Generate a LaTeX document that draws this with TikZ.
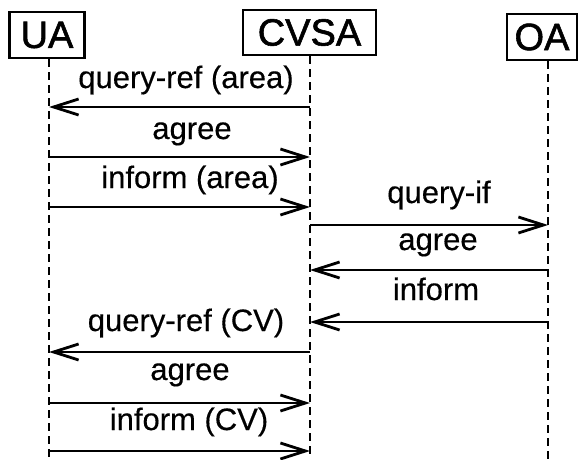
\documentclass[tikz,border=0pt]{standalone}
\usepackage{fontspec}
\setmainfont{Liberation Sans}
\usetikzlibrary{arrows.meta}
\begin{document}
\begin{tikzpicture}[x=1pt,y=-1pt,
  head/.style={draw,line width=2.6pt,inner sep=0pt,font=\fontsize{38}{40}\selectfont\addfontfeature{FakeBold=1.5}},
  life/.style={line width=1.1pt,dash pattern=on 8pt off 5pt},
  msg/.style={line width=2.4pt,-{Straight Barb[length=25pt,width=16pt,line width=2.8pt]}},
  lbl/.style={anchor=base,inner sep=0pt,font=\fontsize{31}{33}\selectfont\addfontfeature{FakeBold=0.4}}]
\useasboundingbox[fill=white] (0,0) rectangle (581,459);
% headers
\node[head,minimum width=75pt,minimum height=46pt] (ua) at (47,35) {UA};
\node[head,minimum width=133pt,minimum height=45pt] (cvsa) at (309.5,32.5) {CVSA};
\node[head,minimum width=70pt,minimum height=46pt] (oa) at (542,37) {OA};
% lifelines
\coordinate (uaend) at (49,459);
\coordinate (cvend) at (310,459);
\coordinate (oaend) at (548,459);
\draw[life] (ua.south -| uaend) -- (uaend);
\draw[life] (cvsa.south -| cvend) -- (cvend);
\draw[life] (oa.south -| oaend) -- (oaend);
% message end points
\coordinate (u1) at (49,107);  \coordinate (c1) at (310,107);
\coordinate (u2) at (49,157);  \coordinate (c2) at (310,157);
\coordinate (u3) at (49,207);  \coordinate (c3) at (310,207);
\coordinate (c4) at (310,225); \coordinate (o4) at (548,225);
\coordinate (c5) at (310,270); \coordinate (o5) at (548,270);
\coordinate (c6) at (310,322); \coordinate (o6) at (548,322);
\coordinate (u7) at (49,352);  \coordinate (c7) at (310,352);
\coordinate (u8) at (49,403);  \coordinate (c8) at (310,403);
\coordinate (u9) at (49,451);  \coordinate (c9) at (310,451);
% messages
\draw[msg] (c1) -- (u1);
\draw[msg] (u2) -- (c2);
\draw[msg] (u3) -- (c3);
\draw[msg] (c4) -- (o4);
\draw[msg] (o5) -- (c5);
\draw[msg] (o6) -- (c6);
\draw[msg] (c7) -- (u7);
\draw[msg] (u8) -- (c8);
\draw[msg] (u9) -- (c9);
% labels
\node[lbl] (l1) at (186,88) {query-ref (area)};
\node[lbl] (l2) at (192,139) {agree};
\node[lbl] (l3) at (190,188) {inform (area)};
\node[lbl] (l4) at (439,203) {query-if};
\node[lbl] (l5) at (438,250) {agree};
\node[lbl] (l6) at (436,300) {inform};
\node[lbl] (l7) at (186,331) {query-ref (CV)};
\node[lbl] (l8) at (190,380) {agree};
\node[lbl] (l9) at (189,430) {inform (CV)};
\end{tikzpicture}
\end{document}
